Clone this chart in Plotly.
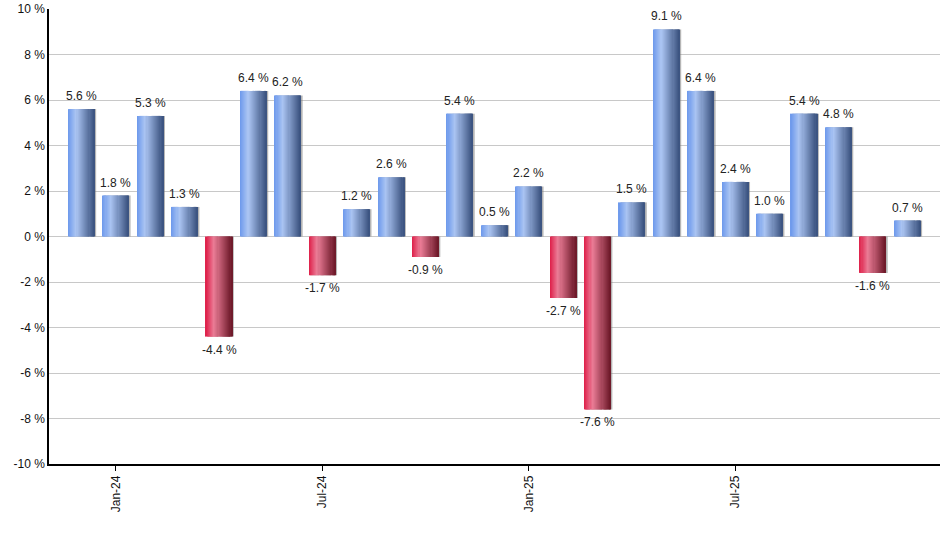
import plotly.graph_objects as go

months = ['Dec-23', 'Jan-24', 'Feb-24', 'Mar-24', 'Apr-24', 'May-24', 'Jun-24',
          'Jul-24', 'Aug-24', 'Sep-24', 'Oct-24', 'Nov-24', 'Dec-24',
          'Jan-25', 'Feb-25', 'Mar-25', 'Apr-25', 'May-25', 'Jun-25',
          'Jul-25', 'Aug-25', 'Sep-25', 'Oct-25', 'Nov-25', 'Dec-25']
returns = [5.6, 1.8, 5.3, 1.3, -4.4, 6.4, 6.2, -1.7, 1.2, 2.6, -0.9, 5.4, 0.5,
           2.2, -2.7, -7.6, 1.5, 9.1, 6.4, 2.4, 1.0, 5.4, 4.8, -1.6, 0.7]
tick_months = ['Jan-24', 'Jul-24', 'Jan-25', 'Jul-25']
y_ticks = [-10, -8, -6, -4, -2, 0, 2, 4, 6, 8, 10]

# horizontal gradient stops (position, rgb) for up / down bars
blue_stops = [(0.0, (108, 152, 236)), (0.32, (170, 196, 242)), (1.0, (58, 82, 126))]
red_stops = [(0.0, (222, 30, 72)), (0.32, (234, 124, 150)), (1.0, (108, 24, 40))]


def grad(stops, t):
    for (p0, c0), (p1, c1) in zip(stops, stops[1:]):
        if p0 <= t <= p1:
            f = (t - p0) / (p1 - p0)
            c = [round(a + (b - a) * f) for a, b in zip(c0, c1)]
            return 'rgb(%d,%d,%d)' % tuple(c)
    return 'rgb(%d,%d,%d)' % stops[-1][1]


bar_w = 0.76
n_strips = 24
strip_w = bar_w / n_strips

fig = go.Figure()

# soft shadow on the right side
fig.add_trace(go.Bar(
    x=months, y=returns, width=bar_w, offset=-bar_w / 2 + 0.05,
    marker=dict(color='rgba(120,120,120,0.55)', line=dict(width=0)),
    hoverinfo='skip', showlegend=False))

for i in range(n_strips):
    t = (i + 0.5) / n_strips
    cols = [grad(blue_stops, t) if v >= 0 else grad(red_stops, t) for v in returns]
    w = strip_w * 1.6 if i < n_strips - 1 else strip_w
    fig.add_trace(go.Bar(
        x=months, y=returns, width=w, offset=-bar_w / 2 + i * strip_w,
        marker=dict(color=cols, line=dict(width=0)),
        hoverinfo='skip' if i else 'x+y', showlegend=False))

# value labels
for m, v in zip(months, returns):
    fig.add_annotation(
        x=m, y=v, text='%.1f %%' % v, showarrow=False,
        yanchor='bottom' if v >= 0 else 'top', yshift=4 if v >= 0 else -4,
        font=dict(family='Arial, Liberation Sans', size=12, color='#222'))

fig.update_layout(
    barmode='overlay',
    width=940, height=550,
    margin=dict(l=49, r=0, t=9, b=86),
    paper_bgcolor='white', plot_bgcolor='white',
    font=dict(family='Arial, Liberation Sans', size=12, color='#111'),
    xaxis=dict(
        type='category', range=[-0.94, 24.95], automargin=False,
        tickvals=tick_months, ticktext=tick_months, tickangle=-90,
        ticks='outside', ticklen=5, tickcolor='black',
        showline=True, linecolor='black', linewidth=1.5,
        showgrid=False, zeroline=False),
    yaxis=dict(
        range=[-10, 10], tickvals=y_ticks, automargin=False,
        ticktext=['%d %%' % v for v in y_ticks],
        showline=True, linecolor='black', linewidth=1.5,
        ticks='', gridcolor='#c8c8c8', gridwidth=1,
        zeroline=False),
)

# page has a default 8px body margin; drop it so the chart sits at the corner
fig.write_html('out.html', config={'displayModeBar': False},
               post_script="document.body.style.margin='0';")
